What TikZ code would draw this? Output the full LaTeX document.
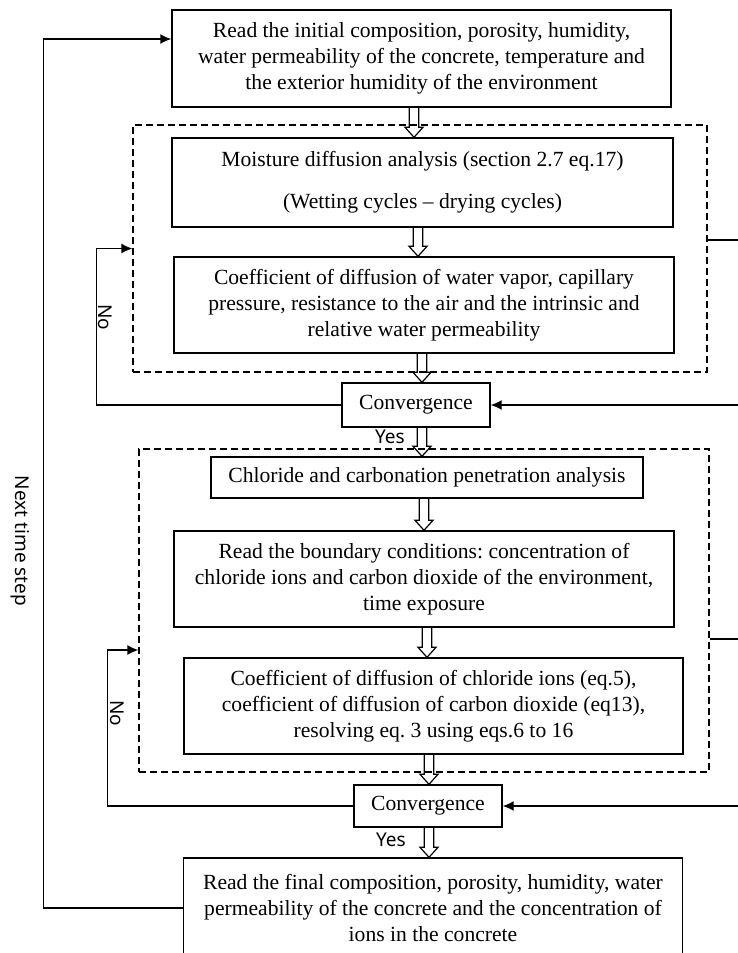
\documentclass[tikz,border=0pt]{standalone}
\usepackage{fontspec}
\setmainfont{Liberation Serif}
\newfontfamily\labelfont{Noto Sans}
\usetikzlibrary{arrows.meta,calc}
\frenchspacing

\tikzset{
  box/.style={draw, line width=0.7pt, align=center, inner sep=0pt, font=\fontsize{10.8}{12.9}\selectfont},
  group/.style={draw, dash pattern=on 3.5pt off 2pt, line width=0.6pt, inner sep=0pt},
  loop/.style={line width=0.7pt, -{Latex[length=5.5pt,width=5pt]}},
  hollow/.style={line width=0.6pt},
  lbl/.style={font=\labelfont\fontsize{9.5}{11}\selectfont, inner sep=0pt}
}

% hollow arrow from the bottom of one box to the top of the next, at a given x
\newcommand{\hollowarrow}[3]{%
  \draw[hollow] let \p1=(#1.south), \p2=(#2.north), \p3=(#3,0) in
    (\x3-2.4pt,\y1) -- (\x3-2.4pt,\y2+5pt) -- (\x3-4.5pt,\y2+5pt) -- (\x3,\y2)
    -- (\x3+4.5pt,\y2+5pt) -- (\x3+2.4pt,\y2+5pt) -- (\x3+2.4pt,\y1);}

\begin{document}
\begin{tikzpicture}[x=0.5pt,y=-0.5pt]
\useasboundingbox (0,0) rectangle (738,953);

% dashed groups
\node[group, minimum width=287pt, minimum height=123.5pt] (moistgrp) at (420,248.5) {};
\node[group, minimum width=285pt, minimum height=161.5pt] (chlorgrp) at (424,610.5) {};

% boxes
\node[box, minimum width=249.5pt, minimum height=48.5pt] (read1) at (421.5,58.5)
  {Read the initial composition, porosity, humidity,\\ water permeability of the concrete, temperature and\\ the exterior humidity of the environment};
\node[box, minimum width=250.5pt, minimum height=44.5pt] (moist) at (422.5,182.5)
  {Moisture diffusion analysis (section 2.7 eq.17)\\[8pt] (Wetting cycles -- drying cycles)};
\node[box, minimum width=250pt, minimum height=48pt] (coef1) at (424,305)
  {Coefficient of diffusion of water vapor, capillary\\ pressure, resistance to the air and the intrinsic and\\ relative water permeability};
\node[box, minimum width=74pt, minimum height=22pt] (conv1) at (416,405) {Convergence};
\node[box, minimum width=216pt, minimum height=20.5pt] (chlor) at (427,477.5)
  {Chloride and carbonation penetration analysis};
\node[box, minimum width=250pt, minimum height=48pt] (bound) at (424,579)
  {Read the boundary conditions: concentration of\\ chloride ions and carbon dioxide of the environment,\\ time exposure};
\node[box, minimum width=249.5pt, minimum height=48pt] (coef2) at (433.5,706)
  {Coefficient of diffusion of chloride ions (eq.5),\\ coefficient of diffusion of carbon dioxide (eq13),\\ resolving eq. 3 using eqs.6 to 16};
\node[box, minimum width=74pt, minimum height=21pt] (conv2) at (428,806) {Convergence};
\node[box, minimum width=249.5pt, minimum height=50pt] (final) at (433,908)
  {Read the final composition, porosity, humidity, water\\ permeability of the concrete and the concentration of\\ ions in the concrete};

% labels
\node[lbl, rotate=-90] (no1) at (105,317) {No};
\node[lbl, rotate=-90] (no2) at (117,713) {No};
\node[lbl] (yes1) at (390,437) {Yes};
\node[lbl] (yes2) at (391,840) {Yes};
\node[lbl, rotate=-90] (nextstep) at (20,541) {Next time step};

% main flow
\hollowarrow{read1}{moist}{414}
\hollowarrow{moist}{coef1}{418}
\hollowarrow{coef1}{conv1}{422}
\hollowarrow{conv1}{chlor}{422}
\hollowarrow{chlor}{bound}{424}
\hollowarrow{bound}{coef2}{427}
\hollowarrow{coef2}{conv2}{429}
\hollowarrow{conv2}{final}{429}

% loops
\draw[loop] (conv1.west) -| ([xshift=-18pt]moistgrp.west) -- (moistgrp.west);
\draw[loop] (conv2.west) -| ([xshift=-15.5pt,yshift=-19.75pt]chlorgrp.west) -- ([yshift=-19.75pt]chlorgrp.west);
\draw[loop] ([yshift=4.25pt]moistgrp.east) -- ++(40,0) |- (conv1.east);
\draw[loop] ([yshift=-14.25pt]chlorgrp.east) -- ++(40,0) |- (conv2.east);
\draw[loop] (final.west) -- ++(-139.5,0) |- ([yshift=9.75pt]read1.west);
\end{tikzpicture}
\end{document}
